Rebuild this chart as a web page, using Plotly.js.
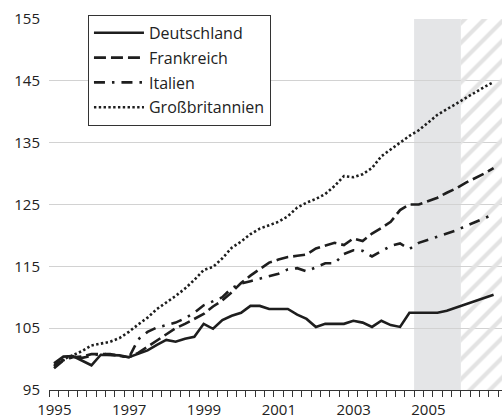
<!DOCTYPE html>
<html>
<head>
<meta charset="utf-8">
<script src="https://cdn.plot.ly/plotly-3.0.1.min.js"></script>
<style>html,body{margin:0;padding:0;background:#fff;}</style>
</head>
<body>
<div id="chart" style="width:502px;height:420px;"></div>
<script>
// Quarterly index values (1995 Q1 = ~100)
const quarters = [
  "1995 Q1","1995 Q2","1995 Q3","1995 Q4","1996 Q1","1996 Q2","1996 Q3","1996 Q4",
  "1997 Q1","1997 Q2","1997 Q3","1997 Q4","1998 Q1","1998 Q2","1998 Q3","1998 Q4",
  "1999 Q1","1999 Q2","1999 Q3","1999 Q4","2000 Q1","2000 Q2","2000 Q3","2000 Q4",
  "2001 Q1","2001 Q2","2001 Q3","2001 Q4","2002 Q1","2002 Q2","2002 Q3","2002 Q4",
  "2003 Q1","2003 Q2","2003 Q3","2003 Q4","2004 Q1","2004 Q2","2004 Q3","2004 Q4",
  "2005 Q1","2005 Q2","2005 Q3","2005 Q4","2006 Q1","2006 Q2","2006 Q3","2006 Q4"
];
const deutschland = [
  99.3,100.4,100.5,99.8,99.0,100.7,100.7,100.6,100.3,100.8,101.4,102.3,
  103.1,102.8,103.3,103.6,105.7,104.9,106.3,107.0,107.5,108.6,108.6,108.1,
  108.1,108.1,107.2,106.5,105.2,105.7,105.7,105.7,106.2,105.9,105.2,106.2,
  105.5,105.2,107.5,107.5,107.5,107.5,107.8,108.3,108.8,109.3,109.8,110.4
];
const frankreich = [
  99.0,99.8,100.3,100.4,100.8,100.8,100.8,100.5,100.3,101.0,102.0,103.0,
  104.0,105.0,105.7,106.5,107.3,108.5,109.5,110.8,112.3,113.5,114.5,115.6,
  116.1,116.5,116.7,116.9,117.9,118.3,118.8,118.45,119.5,119.1,120.3,121.2,
  122.2,124.1,125.0,125.0,125.6,126.1,126.9,127.6,128.5,129.2,130.0,130.9
];
const italien = [
  98.5,99.8,100.4,100.2,100.5,100.9,100.7,100.6,100.2,103.2,104.4,105.1,
  105.5,105.9,106.6,107.5,108.7,109.4,110.0,111.5,112.2,112.6,113.0,113.3,
  113.8,114.5,114.7,114.2,114.8,115.5,115.5,117.0,117.6,117.5,116.6,117.4,
  118.3,118.7,117.8,118.8,119.3,119.8,120.3,120.8,121.5,122.1,122.8,123.4
];
const grossbritannien = [
  98.8,100.0,100.6,101.3,102.2,102.5,102.8,103.4,104.4,105.6,106.7,108.1,
  109.1,110.2,111.4,112.8,114.4,114.9,116.3,118.0,119.0,120.2,121.1,121.6,
  122.2,123.1,124.5,125.3,125.9,126.7,128.0,129.6,129.4,129.9,130.9,132.8,
  133.9,135.1,136.1,137.0,138.3,139.5,140.4,141.3,142.3,143.2,144.0,144.8
];
const seriesNames = ["Deutschland","Frankreich","Italien","Großbritannien"];
const yearTicks = [1995,1997,1999,2001,2003,2005];
const yTicks = [95,105,115,125,135,145,155];
// shaded periods (years): grey = estimate, hatched = forecast
const greyFrom = 2004.75, greyTo = 2006.0, hatchTo = 2007.3;

// position of a quarter at its mid-point on a numeric year axis
const xPos = quarters.map(function(q){
  const p = q.split(" Q");
  return Number(p[0]) + (Number(p[1]) - 0.5) / 4;
});

const ink = '#1e1e1e';
const styles = [
  {width:2.6, dash:'solid'},
  {width:2.6, dash:'12px,5px'},
  {width:2.6, dash:'11px,7px,2.5px,7px'},
  {width:2.6, dash:'2.4px,2.4px'}
];
const values = [deutschland, frankreich, italien, grossbritannien];

const traces = [{
  x:[greyTo, hatchTo, hatchTo, greyTo], y:[yTicks[0], yTicks[0], yTicks[yTicks.length-1], yTicks[yTicks.length-1]],
  mode:'none', fill:'toself', fillcolor:'rgba(255,255,255,0)',
  fillpattern:{shape:'/', fgcolor:'#e3e3e3', bgcolor:'rgba(255,255,255,0)', size:14, solidity:0.3},
  showlegend:false, hoverinfo:'skip'
}];
seriesNames.forEach(function(n, i){
  traces.push({
    x:xPos, y:values[i], name:n, type:'scatter', mode:'lines', legendgroup:'g'+i,
    line:{color:ink, width:styles[i].width, dash:styles[i].dash}
  });
});

const layout = {
  width:502, height:420,
  margin:{l:49, r:0, t:19, b:30},
  paper_bgcolor:'#fff', plot_bgcolor:'#fff',
  font:{family:'Open Sans, sans-serif', size:15, color:'#222'},
  showlegend:true,
  legend:{x:0.086, y:1.011, xanchor:'left', yanchor:'top', bgcolor:'#fff',
          bordercolor:'#333', borderwidth:1, itemwidth:50, tracegroupgap:1,
          font:{size:16, color:'#222'}},
  xaxis:{
    range:[1994.99, 2007.1],
    tickmode:'array', tickvals:yearTicks, ticktext:yearTicks.map(String),
    ticks:'outside', ticklen:6, tickcolor:'#333', tickwidth:1,
    ticklabelshift:5,
    minor:{tickmode:'linear', tick0:1995, dtick:0.25, ticks:'outside', ticklen:6, tickcolor:'#333', tickwidth:1, showgrid:false},
    showgrid:false, zeroline:false, showline:true, linecolor:'#333', linewidth:1.2,
    tickfont:{size:15, color:'#222'}
  },
  yaxis:{
    range:[95,155], tickmode:'array', tickvals:yTicks,
    showgrid:true, gridcolor:'#d2d2d2', gridwidth:1.2,
    zeroline:false, showline:false, ticks:'',
    ticklabelstandoff:8,
    tickfont:{size:15, color:'#222'}
  },
  shapes:[{type:'rect', xref:'x', yref:'paper', x0:greyFrom, x1:greyTo, y0:0, y1:1,
           fillcolor:'#e4e5e7', line:{width:0}, layer:'below'}]
};

Plotly.newPlot('chart', traces, layout, {displayModeBar:false, staticPlot:true});
</script>
</body>
</html>
